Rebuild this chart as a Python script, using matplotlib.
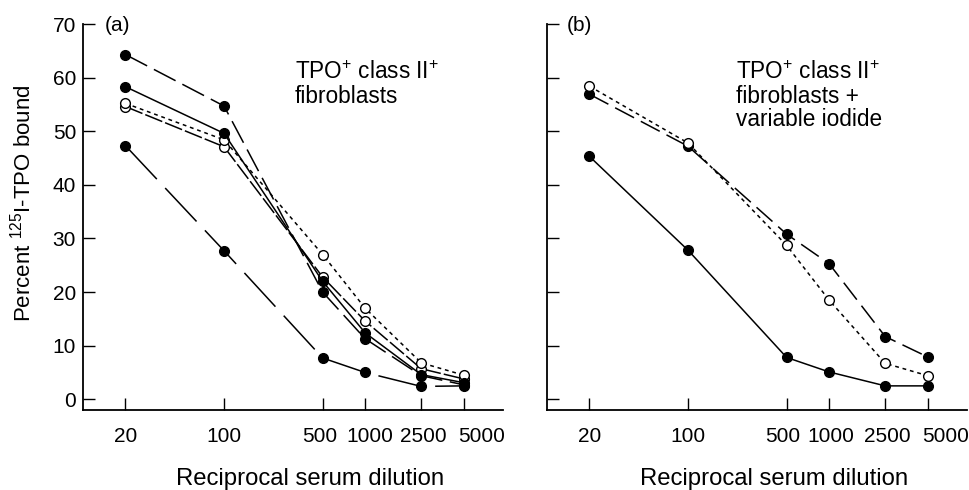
import matplotlib
matplotlib.use("Agg")
import matplotlib.pyplot as plt
from matplotlib.transforms import ScaledTranslation

plt.rcParams['font.family'] = ['Liberation Sans', 'DejaVu Sans']
plt.rcParams['mathtext.fontset'] = 'custom'
plt.rcParams['mathtext.rm'] = 'Liberation Sans'
plt.rcParams['mathtext.it'] = 'Liberation Sans'
plt.rcParams['mathtext.default'] = 'regular'

# Data
dilutions = [20, 100, 500, 1000, 2500, 5000]
tick_values = [20, 100, 500, 1000, 2500, 5000]
tick_labels = ["20", "100", "500", "1000", "2500", "5000"]

# Panel (a)
a_s1 = [64.3, 54.7, 20.0, 11.3, 4.4, 2.7]   # filled, long dash
a_s2 = [58.3, 49.6, 22.0, 12.4, 4.6, 3.1]   # filled, solid
a_s3 = [55.2, 48.4, 27.0, 17.0, 6.8, 4.5]   # open, short dash
a_s4 = [54.6, 47.1, 22.8, 14.6, 5.7, 3.8]   # open, long dash
a_s5 = [47.3, 27.7, 7.7, 5.0, 2.4, 2.5]     # filled, long gapped dash

# Panel (b)
b_s1 = [56.9, 47.2, 30.8, 25.3, 11.7, 7.9]  # filled, long dash
b_s2 = [58.4, 47.8, 28.7, 18.5, 6.7, 4.4]   # open, short dash
b_s3 = [45.3, 27.8, 7.8, 5.1, 2.5, 2.5]     # filled, solid

fig = plt.figure(figsize=(9.7, 4.9), dpi=100)
W, H = 970, 490
def axrect(x0, x1, ytop, ybot):
    return [x0 / W, 1 - ybot / H, (x1 - x0) / W, (ybot - ytop) / H]

axA = fig.add_axes(axrect(83, 503, 24, 410))
axB = fig.add_axes(axrect(547, 967, 24, 410))

lw = 1.1
ms = 7
filled = dict(marker='o', markersize=ms, markerfacecolor='black', markeredgecolor='black', color='black', lw=lw)
hollow = dict(marker='o', markersize=ms, markerfacecolor='white', markeredgecolor='black', markeredgewidth=1.0, color='black', lw=lw)

axA.plot(dilutions, a_s5, dashes=(30, 8), **filled)
axA.plot(dilutions, a_s1, dashes=(16, 5), **filled)
axA.plot(dilutions, a_s4, dashes=(12, 2), **hollow)
axA.plot(dilutions, a_s3, dashes=(2.5, 2.5), **hollow)
axA.plot(dilutions, a_s2, **filled)

axB.plot(dilutions, b_s3, **filled)
axB.plot(dilutions, b_s1, dashes=(14, 5), **filled)
axB.plot(dilutions, b_s2, dashes=(2.5, 2.5), **hollow)

label_shift_px = {"A": [0, 0, -3, 5, 2, 18], "B": [0, 0, -4, 2, 2, 18]}

for key, ax in (("A", axA), ("B", axB)):
    ax.set_xscale('log')
    ax.set_xlim(10, 9500)
    ax.set_ylim(-2, 70)
    ax.set_xticks(tick_values)
    ax.set_xticklabels(tick_labels)
    ax.minorticks_off()
    ax.set_yticks(range(0, 71, 10))
    for s in ('top', 'right'):
        ax.spines[s].set_visible(False)
    for s in ('left', 'bottom'):
        ax.spines[s].set_linewidth(1.3)
    ax.tick_params(axis='both', direction='in', length=8.5, width=1.0, labelsize=15)
    ax.tick_params(axis='x', pad=12)
    ax.tick_params(axis='y', pad=5)
    ax.set_xlabel("Reciprocal serum dilution", fontsize=17.2)
    ax.xaxis.set_label_coords(0.54, -0.18)
    ax.xaxis.label.set_va('center')
    for lab, dx in zip(ax.get_xticklabels(), label_shift_px[key]):
        lab.set_transform(lab.get_transform() + ScaledTranslation(dx / 100, 0, fig.dpi_scale_trans))

axA.set_yticklabels([str(v) for v in range(0, 71, 10)])
axB.set_yticklabels([])
axA.set_ylabel("Percent $^{125}$I-TPO bound", fontsize=16)
axA.yaxis.set_label_coords(-0.145, 0.536)
axA.yaxis.label.set_va('center')

axA.text(0.052, 0.997, "(a)", transform=axA.transAxes, fontsize=15, va='center', ha='left')
axB.text(0.048, 0.997, "(b)", transform=axB.transAxes, fontsize=15, va='center', ha='left')

axA.text(0.505, 0.905, "TPO$^{+}$ class II$^{+}$\nfibroblasts", transform=axA.transAxes,
         fontsize=16.3, va='top', ha='left', linespacing=1.05)
axB.text(0.45, 0.905, "TPO$^{+}$ class II$^{+}$\nfibroblasts +\nvariable iodide", transform=axB.transAxes,
         fontsize=16.3, va='top', ha='left', linespacing=1.05)

fig.savefig("out.png", dpi=100)
